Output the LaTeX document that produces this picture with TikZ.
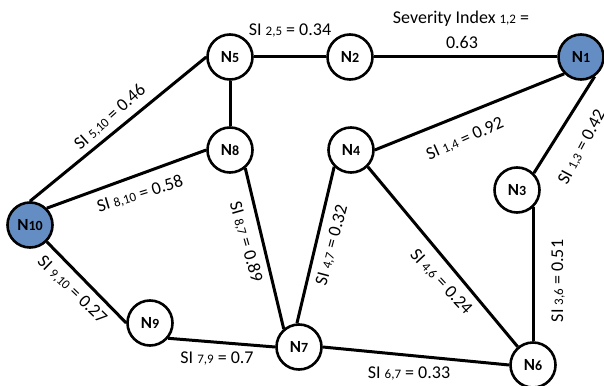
\documentclass[tikz,border=0pt]{standalone}
\usepackage{fontspec}
\setmainfont{Carlito}
\definecolor{hubblue}{RGB}{100,141,196}
\pgfdeclarelayer{links}
\pgfsetlayers{links,main}
\newcommand\nlab[1]{{\fontsize{17}{17}\selectfont\bfseries N{\fontsize{14}{14}\selectfont #1}}}
\newcommand\sub[1]{{\fontsize{13}{13}\selectfont #1}}
\newcommand\silab[2]{SI \sub{#1} = #2}
\begin{document}
\begin{tikzpicture}[x=1pt,y=-1pt,
  vertex/.style={circle,draw=black,line width=2.6pt,fill=white,minimum size=45pt,inner sep=0pt},
  hub/.style={vertex,fill=hubblue},
  link/.style={line width=3pt},
  weight/.style={font=\fontsize{18}{18}\selectfont,inner sep=1pt}]
\useasboundingbox (0,0) rectangle (604,385);
% stations
\node[hub]    (n1)  at (581,57)  {\nlab{1}};
\node[vertex] (n2)  at (350,57)  {\nlab{2}};
\node[vertex] (n3)  at (517,190) {\nlab{3}};
\node[vertex] (n4)  at (351,150) {\nlab{4}};
\node[vertex] (n5)  at (230,57)  {\nlab{5}};
\node[vertex] (n6)  at (533,365) {\nlab{6}};
\node[vertex] (n7)  at (299,347) {\nlab{7}};
\node[vertex] (n8)  at (230,150) {\nlab{8}};
\node[vertex] (n9)  at (150,323) {\nlab{9}};
\node[hub]    (n10) at (30,225)  {\nlab{10}};
% links, joined at fixed points of the circles
\begin{pgfonlayer}{links}
\draw[link] (n5.east) -- (n2.west);
\draw[link] (n2.east) -- (n1.west);
\draw[link] (n5.south) -- (n8.north);
\draw[link] (n5.west) -- (n10.north);
\draw[link] (n8.west) -- (n10.45);
\draw[link] (n8.-50) -- (n7.130);
\draw[link] (n4.east) -- (n1.-135);
\draw[link] (n1.-55) -- (n3.45);
\draw[link] (n3.-45) -- (n3.-45 |- n6.north);
\draw[link] (n4.-135) -- (n7.95);
\draw[link] (n4.-45) -- (n6.130);
\draw[link] (n10.-45) -- (n9.west);
\draw[link] (n9.-40) -- (n7.west);
\draw[link] (n7.east) -- (n6.west);
\end{pgfonlayer}
% severity indices
\node[weight] (w25)  at (290,30)  {\silab{2,5}{0.34}};
\node[weight] (w12a) at (461,19)  {Severity Index \sub{1,2} =};
\node[weight] (w12b) at (462,42)  {0.63};
\node[weight,rotate=24] (w14) at (465,139) {\silab{1,4}{0.92}};
\node[weight,rotate=62] (w13) at (582,147) {\silab{1,3}{0.42}};
\node[weight,rotate=42] (w510) at (110,117) {\silab{5,10}{0.46}};
\node[weight,rotate=17] (w810) at (140,194) {\silab{8,10}{0.58}};
\node[weight,rotate=-74] (w87) at (246,242) {\silab{8,7}{0.89}};
\node[weight,rotate=-44] (w910) at (72,290) {\silab{9,10}{0.27}};
\node[weight] (w79) at (217,358) {\silab{7,9}{0.7}};
\node[weight,rotate=75] (w47) at (332,245) {\silab{4,7}{0.32}};
\node[weight,rotate=-47] (w46) at (441,282) {\silab{4,6}{0.24}};
\node[weight,rotate=90] (w36) at (558,281) {\silab{3,6}{0.51}};
\node[weight] (w67) at (409,373) {\silab{6,7}{0.33}};
\end{tikzpicture}
\end{document}
